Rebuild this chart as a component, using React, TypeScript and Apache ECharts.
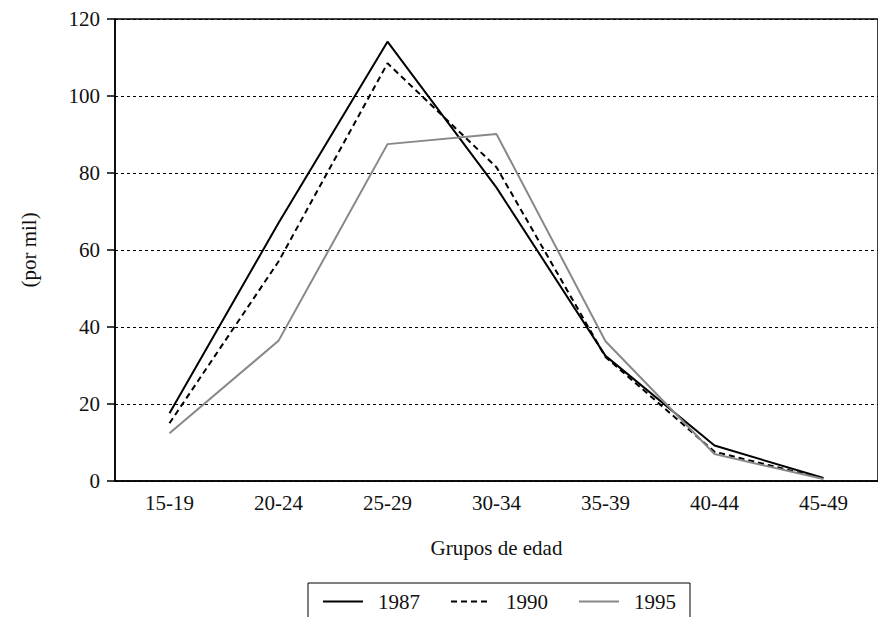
import React, { useEffect, useRef } from "react";
import * as echarts from "echarts";

const categories = ["15-19", "20-24", "25-29", "30-34", "35-39", "40-44", "45-49"];
const s1987 = [17.6, 67, 114.1, 76.2, 32.5, 9.2, 0.8];
const s1990 = [15, 57, 108.5, 81.5, 32.2, 7.6, 0.6];
const s1995 = [12.4, 36.4, 87.5, 90.1, 36.3, 7.0, 0.5];
const yTicks = { min: 0, max: 120, interval: 20 };

const FONT = "'Liberation Serif', 'DejaVu Serif', serif";
const FS = 21;

export default function App() {
  const ref = useRef<HTMLDivElement>(null);
  useEffect(() => {
    if (!ref.current) return;
    const chart = echarts.init(ref.current, undefined, { renderer: "svg" });
    chart.setOption({
      animation: false,
      backgroundColor: "#fff",
      textStyle: { fontFamily: FONT, color: "#111" },
      grid: {
        left: 115,
        top: 19,
        width: 768.6,
        height: 462,
        show: true,
        borderColor: "#000",
        borderWidth: 1.5,
      },
      legend: {
        left: 308,
        top: 583,
        padding: [8, 14, 30, 14],
        borderColor: "#000",
        borderWidth: 1,
        itemWidth: 40,
        itemHeight: 14,
        itemGap: 30,
        itemStyle: { opacity: 0 },
        textStyle: { fontFamily: FONT, fontSize: FS, color: "#111", padding: [0, 0, 0, 10] },
        data: ["1987", "1990", "1995"],
      },
      xAxis: {
        type: "category",
        data: categories,
        boundaryGap: true,
        name: "Grupos de edad",
        nameLocation: "middle",
        nameGap: 56,
        nameTextStyle: { fontFamily: FONT, fontSize: FS, color: "#111" },
        axisLine: { lineStyle: { color: "#000", width: 1.5 } },
        axisTick: { inside: true, length: 11, lineStyle: { color: "#000", width: 1.5 } },
        axisLabel: { fontFamily: FONT, fontSize: FS, color: "#111", margin: 11 },
      },
      yAxis: {
        type: "value",
        min: yTicks.min,
        max: yTicks.max,
        interval: yTicks.interval,
        name: "(por mil)",
        nameLocation: "middle",
        nameGap: 76,
        nameTextStyle: { fontFamily: FONT, fontSize: FS, color: "#111" },
        axisLine: { show: true, lineStyle: { color: "#000", width: 1.5 } },
        axisTick: { show: true, length: 8, lineStyle: { color: "#000", width: 1.5 } },
        axisLabel: { fontFamily: FONT, fontSize: FS, color: "#111", margin: 15 },
        splitLine: { show: true, lineStyle: { color: "#000", type: [3, 3], width: 1 } },
      },
      series: [
        {
          name: "1987",
          type: "line",
          data: s1987,
          symbol: "none",
          lineStyle: { color: "#000", width: 2 },
          itemStyle: { color: "#000" },
        },
        {
          name: "1990",
          type: "line",
          data: s1990,
          symbol: "none",
          lineStyle: { color: "#000", width: 2, type: [6, 4] },
          itemStyle: { color: "#000" },
        },
        {
          name: "1995",
          type: "line",
          data: s1995,
          symbol: "none",
          lineStyle: { color: "#888", width: 2 },
          itemStyle: { color: "#888" },
        },
      ],
    });
    return () => chart.dispose();
  }, []);
  return (
    <div
      ref={ref}
      style={{ position: "fixed", left: 0, top: 0, width: 878, height: 617, background: "#fff" }}
    />
  );
}
